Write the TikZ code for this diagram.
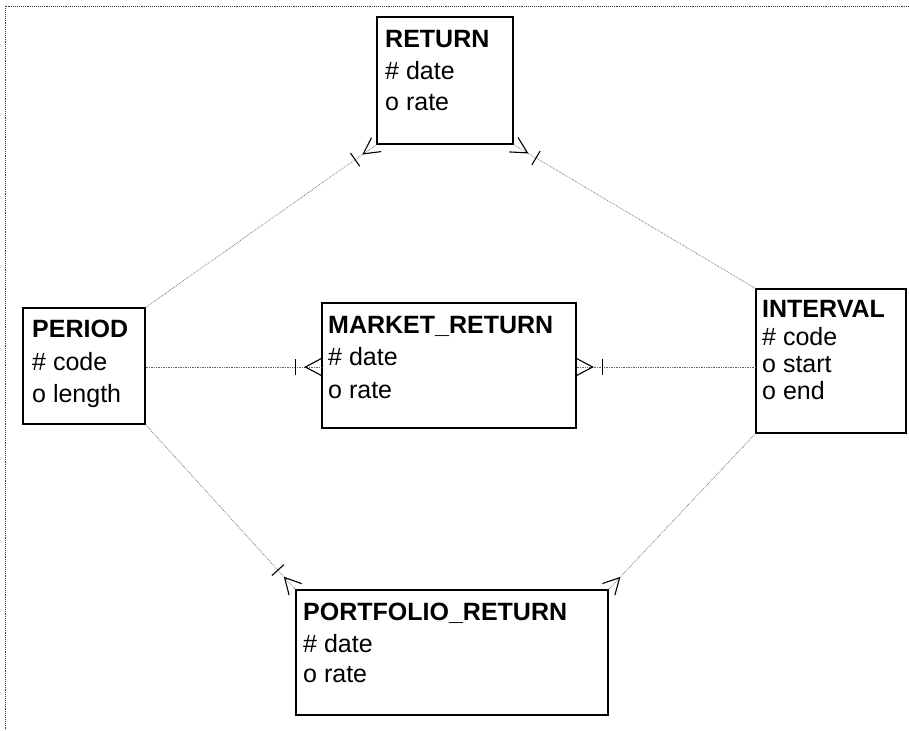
\documentclass[tikz,border=0pt]{standalone}
\usepackage{fontspec}
\setmainfont{Liberation Sans}
\usetikzlibrary{calc}
\tikzset{
  box/.style={draw=black, line width=1.3pt, rectangle, inner sep=0pt},
  ttl/.style={anchor=base west, inner sep=0pt, font=\fontsize{25}{30}\selectfont\bfseries},
  attr/.style={anchor=base west, inner sep=0pt, font=\fontsize{25}{30}\selectfont},
  rel/.style={densely dotted, line width=0.7pt, draw=black!60},
  foot/.style={draw=black, line width=1.1pt},
  frame/.style={densely dotted, line width=0.9pt, draw=black!75}
}
\newcommand{\crowft}[2]{%
  \draw[foot] ($(#1)!8.5pt!90:(#2)$) -- ($(#1)!16pt!(#2)$) -- ($(#1)!8.5pt!-90:(#2)$);}
\newcommand{\tickmk}[2]{%
  \coordinate (tk) at ($(#1)!26pt!(#2)$);
  \draw[foot] ($(tk)!8pt!90:(#2)$) -- ($(tk)!8pt!-90:(#2)$);}
\begin{document}
\begin{tikzpicture}[x=1pt,y=-1pt]
\useasboundingbox (0,0) rectangle (909,730);
% frame
\coordinate (f0) at (5,6);
\coordinate (f1) at (909,6);
\coordinate (f2) at (5,730);
\draw[frame] (f1) -- (f0) -- (f2);
% boxes
\node[box, minimum width=136pt, minimum height=127pt] (return) at (445,80.5) {};
\node[box, minimum width=122pt, minimum height=116pt] (period) at (84,366) {};
\node[box, minimum width=254pt, minimum height=125pt] (market) at (449,365.5) {};
\node[box, minimum width=150pt, minimum height=144pt] (interval) at (831,361) {};
\node[box, minimum width=312pt, minimum height=125pt] (portfolio) at (452,652.5) {};
% texts
\node[ttl]  (r0) at (385,48) {RETURN};
\node[attr] (r1) at (385,80) {\# date};
\node[attr] (r2) at (385,111) {o rate};
\node[ttl]  (p0) at (32,337) {PERIOD};
\node[attr] (p1) at (32,370) {\# code};
\node[attr] (p2) at (32,402) {o length};
\node[ttl]  (m0) at (328,333) {MARKET\_RETURN};
\node[attr] (m1) at (328,365) {\# date};
\node[attr] (m2) at (328,398) {o rate};
\node[ttl]  (i0) at (762,317) {INTERVAL};
\node[attr] (i1) at (762,345) {\# code};
\node[attr] (i2) at (762,372) {o start};
\node[attr] (i3) at (762,399) {o end};
\node[ttl]  (q0) at (303,620) {PORTFOLIO\_RETURN};
\node[attr] (q1) at (303,652) {\# date};
\node[attr] (q2) at (303,682) {o rate};
% connectors
\coordinate (pe) at (period.east |- 0,367);
\coordinate (mw) at (market.west |- 0,367);
\coordinate (me) at (market.east |- 0,367);
\coordinate (iw) at (interval.west |- 0,367);
\draw[rel] (period.north east) -- (return.south west);
\draw[rel] (interval.north west) -- (return.south east);
\draw[rel] (pe) -- (mw);
\draw[rel] (me) -- (iw);
\draw[rel] (period.south east) -- (portfolio.north west);
\draw[rel] (interval.south west) -- (portfolio.north east);
% crow's feet and ticks
\crowft{return.south west}{period.north east}
\tickmk{return.south west}{period.north east}
\crowft{return.south east}{interval.north west}
\tickmk{return.south east}{interval.north west}
\crowft{mw}{pe}
\tickmk{mw}{pe}
\crowft{me}{iw}
\tickmk{me}{iw}
\crowft{portfolio.north west}{period.south east}
\tickmk{portfolio.north west}{period.south east}
\crowft{portfolio.north east}{interval.south west}
\end{tikzpicture}
\end{document}
